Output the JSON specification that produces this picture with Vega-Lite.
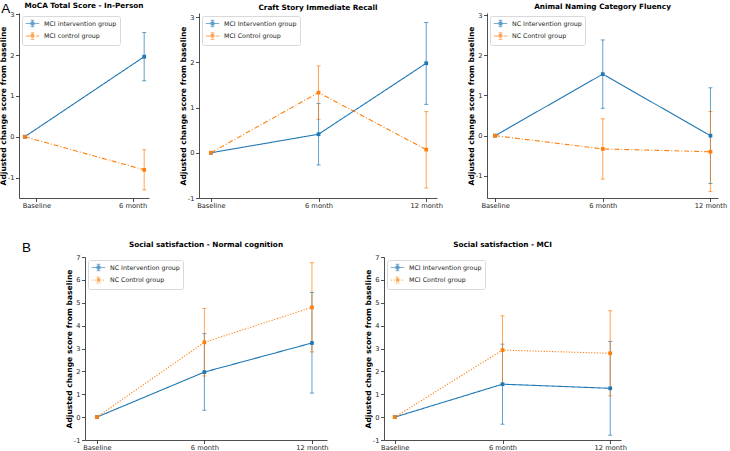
{
  "$schema": "https://vega.github.io/schema/vega-lite/v6.json",
  "padding": {"left": -1, "top": 1, "right": 0, "bottom": 0},
  "title": {"text": "A", "anchor": "start", "font": "Liberation Sans", "fontSize": 13.5, "fontWeight": "normal", "color": "#000", "offset": -14, "dx": 2},
  "config": {
    "view": {"stroke": null},
    "font": "DejaVu Sans",
    "axis": {"grid": false, "domainColor": "#222", "tickColor": "#222", "tickSize": 3.5, "domainWidth": 0.8, "tickWidth": 0.8,
      "labelFont": "DejaVu Sans", "labelFontSize": 6.7, "labelColor": "#222", "labelPadding": 1.5, "labelFlush": false, "labelOverlap": false,
      "titleFont": "DejaVu Sans", "titleFontSize": 7.6, "titleFontWeight": "bold", "titleColor": "#000", "titlePadding": 0},
    "axisX": {"labelPadding": 0.5},
    "title": {"font": "DejaVu Sans", "fontSize": 7.3, "fontWeight": "bold", "color": "#000", "offset": 2},
    "legend": {"orient": "top-left", "offset": 3, "padding": 3, "strokeColor": "#d9d9d9", "fillColor": "#ffffff", "cornerRadius": 2,
      "labelFont": "DejaVu Sans", "labelFontSize": 6.3, "labelColor": "#222", "labelOffset": 7, "rowPadding": 1.6, "symbolOffset": 3,
      "symbolType": "M-1.9,0H1.9M0,-0.9V0.9M-0.5,-0.9H0.5M-0.5,0.9H0.5M-0.42,-0.42H0.42V0.42H-0.42Z", "symbolSize": 50, "symbolStrokeWidth": 1}
  },
  "datasets": {
    "p1": [
      {"group": "MCI intervention group", "x": -0.12, "mean": 0, "lo": null, "hi": null},
      {"group": "MCI intervention group", "x": 1.12, "mean": 1.96, "lo": 1.37, "hi": 2.55},
      {"group": "MCI control group", "x": -0.12, "mean": 0, "lo": null, "hi": null},
      {"group": "MCI control group", "x": 1.12, "mean": -0.81, "lo": -1.30, "hi": -0.32}
    ],
    "p2": [
      {"group": "MCI Intervention group", "x": 0, "mean": 0, "lo": null, "hi": null},
      {"group": "MCI Intervention group", "x": 1, "mean": 0.41, "lo": -0.27, "hi": 1.09},
      {"group": "MCI Intervention group", "x": 2, "mean": 1.98, "lo": 1.07, "hi": 2.88},
      {"group": "MCI Control group", "x": 0, "mean": 0, "lo": null, "hi": null},
      {"group": "MCI Control group", "x": 1, "mean": 1.33, "lo": 0.74, "hi": 1.92},
      {"group": "MCI Control group", "x": 2, "mean": 0.07, "lo": -0.78, "hi": 0.91}
    ],
    "p3": [
      {"group": "NC Intervention group", "x": 0, "mean": 0, "lo": null, "hi": null},
      {"group": "NC Intervention group", "x": 1, "mean": 1.53, "lo": 0.68, "hi": 2.38},
      {"group": "NC Intervention group", "x": 2, "mean": 0.0, "lo": -1.19, "hi": 1.19},
      {"group": "NC Control group", "x": 0, "mean": 0, "lo": null, "hi": null},
      {"group": "NC Control group", "x": 1, "mean": -0.33, "lo": -1.08, "hi": 0.42},
      {"group": "NC Control group", "x": 2, "mean": -0.40, "lo": -1.39, "hi": 0.60}
    ],
    "b1": [
      {"group": "NC Intervention group", "x": 0, "mean": 0, "lo": null, "hi": null},
      {"group": "NC Intervention group", "x": 1, "mean": 1.97, "lo": 0.30, "hi": 3.65},
      {"group": "NC Intervention group", "x": 2, "mean": 3.24, "lo": 1.05, "hi": 5.45},
      {"group": "NC Control group", "x": 0, "mean": 0, "lo": null, "hi": null},
      {"group": "NC Control group", "x": 1, "mean": 3.27, "lo": 1.80, "hi": 4.75},
      {"group": "NC Control group", "x": 2, "mean": 4.80, "lo": 2.85, "hi": 6.75}
    ],
    "b2": [
      {"group": "MCI Intervention group", "x": 0, "mean": 0, "lo": null, "hi": null},
      {"group": "MCI Intervention group", "x": 1, "mean": 1.44, "lo": -0.31, "hi": 3.19},
      {"group": "MCI Intervention group", "x": 2, "mean": 1.26, "lo": -0.79, "hi": 3.31},
      {"group": "MCI Control group", "x": 0, "mean": 0, "lo": null, "hi": null},
      {"group": "MCI Control group", "x": 1, "mean": 2.93, "lo": 1.43, "hi": 4.43},
      {"group": "MCI Control group", "x": 2, "mean": 2.79, "lo": 0.93, "hi": 4.65}
    ]
  },
  "bounds": "flush",
  "spacing": 244,
  "resolve": {"scale": {"x": "independent", "y": "independent", "color": "independent", "strokeDash": "independent"}, "legend": {"color": "independent"}, "axis": {"x": "independent", "y": "independent"}},
  "vconcat": [
    {
      "hconcat": [
        {
          "width": 130, "height": 185,
          "title": {"text": "MoCA Total Score - In-Person"},
          "data": {"name": "p1"},
          "encoding": {
            "x": {"field": "x", "type": "quantitative", "scale": {"domain": [-0.18, 1.17], "nice": false, "zero": false},
              "axis": {"title": null, "values": [0, 1], "labelExpr": "datum.value == 0 ? 'Baseline' : datum.value == 1 ? '6 month' : '12 month'"}},
            "color": {"field": "group", "type": "nominal", "scale": {"domain": ["MCI intervention group", "MCI control group"], "range": ["#1f77b4", "#ff7f0e"]}, "legend": {"title": null}}
          },
          "layer": [
            {"mark": {"type": "errorbar", "rule": {"opacity": 0.7, "strokeWidth": 1}, "ticks": {"size": 4, "opacity": 0.7, "thickness": 1}},
             "encoding": {"y": {"field": "lo", "type": "quantitative", "scale": {"domain": [-1.5, 3.03], "nice": false, "zero": false}, "axis": {"title": "Adjusted change score from baseline", "values": [-1, 0, 1, 2, 3], "labelExpr": "'' + datum.value"}}, "y2": {"field": "hi"}}},
            {"mark": {"type": "line", "strokeWidth": 1.1},
             "encoding": {"y": {"field": "mean", "type": "quantitative", "scale": {"domain": [-1.5, 3.03], "nice": false, "zero": false}, "axis": {"title": "Adjusted change score from baseline", "values": [-1, 0, 1, 2, 3], "labelExpr": "'' + datum.value"}},
               "strokeDash": {"field": "group", "type": "nominal", "scale": {"domain": ["MCI intervention group", "MCI control group"], "range": [[1, 0], [5, 2, 1, 2]]}, "legend": null}}},
            {"mark": {"type": "point", "shape": "square", "filled": true, "size": 14, "opacity": 1},
             "encoding": {"y": {"field": "mean", "type": "quantitative", "scale": {"domain": [-1.5, 3.03], "nice": false, "zero": false}, "axis": {"title": "Adjusted change score from baseline", "values": [-1, 0, 1, 2, 3], "labelExpr": "'' + datum.value"}}}}
          ]
        },
        {
          "width": 238, "height": 185,
          "title": {"text": "Craft Story Immediate Recall"},
          "data": {"name": "p2"},
          "encoding": {
            "x": {"field": "x", "type": "quantitative", "scale": {"domain": [-0.11, 2.1], "nice": false, "zero": false},
              "axis": {"title": null, "values": [0, 1, 2], "labelExpr": "datum.value == 0 ? 'Baseline' : datum.value == 1 ? '6 month' : '12 month'"}},
            "color": {"field": "group", "type": "nominal", "scale": {"domain": ["MCI Intervention group", "MCI Control group"], "range": ["#1f77b4", "#ff7f0e"]}, "legend": {"title": null}}
          },
          "layer": [
            {"mark": {"type": "errorbar", "rule": {"opacity": 0.7, "strokeWidth": 1}, "ticks": {"size": 4, "opacity": 0.7, "thickness": 1}},
             "encoding": {"y": {"field": "lo", "type": "quantitative", "scale": {"domain": [-1, 3.09], "nice": false, "zero": false}, "axis": {"title": "Adjusted change score from baseline", "values": [-1, 0, 1, 2, 3], "labelExpr": "'' + datum.value"}}, "y2": {"field": "hi"}}},
            {"mark": {"type": "line", "strokeWidth": 1.1},
             "encoding": {"y": {"field": "mean", "type": "quantitative", "scale": {"domain": [-1, 3.09], "nice": false, "zero": false}, "axis": {"title": "Adjusted change score from baseline", "values": [-1, 0, 1, 2, 3], "labelExpr": "'' + datum.value"}},
               "strokeDash": {"field": "group", "type": "nominal", "scale": {"domain": ["MCI Intervention group", "MCI Control group"], "range": [[1, 0], [5, 2, 1, 2]]}, "legend": null}}},
            {"mark": {"type": "point", "shape": "square", "filled": true, "size": 14, "opacity": 1},
             "encoding": {"y": {"field": "mean", "type": "quantitative", "scale": {"domain": [-1, 3.09], "nice": false, "zero": false}, "axis": {"title": "Adjusted change score from baseline", "values": [-1, 0, 1, 2, 3], "labelExpr": "'' + datum.value"}}}}
          ]
        },
        {
          "width": 231, "height": 185,
          "title": {"text": "Animal Naming Category Fluency"},
          "data": {"name": "p3"},
          "encoding": {
            "x": {"field": "x", "type": "quantitative", "scale": {"domain": [-0.075, 2.07], "nice": false, "zero": false},
              "axis": {"title": null, "values": [0, 1, 2], "labelExpr": "datum.value == 0 ? 'Baseline' : datum.value == 1 ? '6 month' : '12 month'"}},
            "color": {"field": "group", "type": "nominal", "scale": {"domain": ["NC Intervention group", "NC Control group"], "range": ["#1f77b4", "#ff7f0e"]}, "legend": {"title": null}}
          },
          "layer": [
            {"mark": {"type": "errorbar", "rule": {"opacity": 0.7, "strokeWidth": 1}, "ticks": {"size": 4, "opacity": 0.7, "thickness": 1}},
             "encoding": {"y": {"field": "lo", "type": "quantitative", "scale": {"domain": [-1.55, 3.05], "nice": false, "zero": false}, "axis": {"title": "Adjusted change score from baseline", "values": [-1, 0, 1, 2, 3], "labelExpr": "'' + datum.value"}}, "y2": {"field": "hi"}}},
            {"mark": {"type": "line", "strokeWidth": 1.1},
             "encoding": {"y": {"field": "mean", "type": "quantitative", "scale": {"domain": [-1.55, 3.05], "nice": false, "zero": false}, "axis": {"title": "Adjusted change score from baseline", "values": [-1, 0, 1, 2, 3], "labelExpr": "'' + datum.value"}},
               "strokeDash": {"field": "group", "type": "nominal", "scale": {"domain": ["NC Intervention group", "NC Control group"], "range": [[1, 0], [5, 2, 1, 2]]}, "legend": null}}},
            {"mark": {"type": "point", "shape": "square", "filled": true, "size": 14, "opacity": 1},
             "encoding": {"y": {"field": "mean", "type": "quantitative", "scale": {"domain": [-1.55, 3.05], "nice": false, "zero": false}, "axis": {"title": "Adjusted change score from baseline", "values": [-1, 0, 1, 2, 3], "labelExpr": "'' + datum.value"}}}}
          ]
        }
      ],
      "spacing": 50,
      "bounds": "flush",
      "resolve": {"scale": {"x": "independent", "y": "independent", "color": "independent", "strokeDash": "independent"}, "legend": {"color": "independent"}, "axis": {"x": "independent", "y": "independent"}}
    },
    {
      "hconcat": [
        {
          "width": 9, "height": 183,
          "title": {"text": "B", "anchor": "start", "font": "Liberation Sans", "fontSize": 13.5, "fontWeight": "normal", "color": "#000", "offset": 3, "dx": 3},
          "data": {"values": [{}]},
          "mark": {"type": "point", "opacity": 0},
          "encoding": {}
        },
        {
          "width": 242, "height": 183,
          "title": {"text": "Social satisfaction - Normal cognition", "offset": 6},
          "data": {"name": "b1"},
          "encoding": {
            "x": {"field": "x", "type": "quantitative", "scale": {"domain": [-0.11, 2.14], "nice": false, "zero": false},
              "axis": {"title": null, "values": [0, 1, 2], "labelExpr": "datum.value == 0 ? 'Baseline' : datum.value == 1 ? '6 month' : '12 month'"}},
            "color": {"field": "group", "type": "nominal", "scale": {"domain": ["NC Intervention group", "NC Control group"], "range": ["#1f77b4", "#ff7f0e"]}, "legend": {"title": null}}
          },
          "layer": [
            {"mark": {"type": "errorbar", "rule": {"opacity": 0.7, "strokeWidth": 1}, "ticks": {"size": 4, "opacity": 0.7, "thickness": 1}},
             "encoding": {"y": {"field": "lo", "type": "quantitative", "scale": {"domain": [-1, 7], "nice": false, "zero": false}, "axis": {"title": "Adjusted change score from baseline", "values": [-1, 0, 1, 2, 3, 4, 5, 6, 7], "labelExpr": "'' + datum.value"}}, "y2": {"field": "hi"}}},
            {"mark": {"type": "line", "strokeWidth": 1.1},
             "encoding": {"y": {"field": "mean", "type": "quantitative", "scale": {"domain": [-1, 7], "nice": false, "zero": false}, "axis": {"title": "Adjusted change score from baseline", "values": [-1, 0, 1, 2, 3, 4, 5, 6, 7], "labelExpr": "'' + datum.value"}},
               "strokeDash": {"field": "group", "type": "nominal", "scale": {"domain": ["NC Intervention group", "NC Control group"], "range": [[1, 0], [1.2, 1.6]]}, "legend": null}}},
            {"mark": {"type": "point", "shape": "square", "filled": true, "size": 14, "opacity": 1},
             "encoding": {"y": {"field": "mean", "type": "quantitative", "scale": {"domain": [-1, 7], "nice": false, "zero": false}, "axis": {"title": "Adjusted change score from baseline", "values": [-1, 0, 1, 2, 3, 4, 5, 6, 7], "labelExpr": "'' + datum.value"}}}}
          ]
        },
        {
          "width": 237, "height": 183,
          "title": {"text": "Social satisfaction - MCI", "offset": 6},
          "data": {"name": "b2"},
          "encoding": {
            "x": {"field": "x", "type": "quantitative", "scale": {"domain": [-0.1, 2.1], "nice": false, "zero": false},
              "axis": {"title": null, "values": [0, 1, 2], "labelExpr": "datum.value == 0 ? 'Baseline' : datum.value == 1 ? '6 month' : '12 month'"}},
            "color": {"field": "group", "type": "nominal", "scale": {"domain": ["MCI Intervention group", "MCI Control group"], "range": ["#1f77b4", "#ff7f0e"]}, "legend": {"title": null}}
          },
          "layer": [
            {"mark": {"type": "errorbar", "rule": {"opacity": 0.7, "strokeWidth": 1}, "ticks": {"size": 4, "opacity": 0.7, "thickness": 1}},
             "encoding": {"y": {"field": "lo", "type": "quantitative", "scale": {"domain": [-1, 7], "nice": false, "zero": false}, "axis": {"title": "Adjusted change score from baseline", "values": [-1, 0, 1, 2, 3, 4, 5, 6, 7], "labelExpr": "'' + datum.value"}}, "y2": {"field": "hi"}}},
            {"mark": {"type": "line", "strokeWidth": 1.1},
             "encoding": {"y": {"field": "mean", "type": "quantitative", "scale": {"domain": [-1, 7], "nice": false, "zero": false}, "axis": {"title": "Adjusted change score from baseline", "values": [-1, 0, 1, 2, 3, 4, 5, 6, 7], "labelExpr": "'' + datum.value"}},
               "strokeDash": {"field": "group", "type": "nominal", "scale": {"domain": ["MCI Intervention group", "MCI Control group"], "range": [[1, 0], [1.2, 1.6]]}, "legend": null}}},
            {"mark": {"type": "point", "shape": "square", "filled": true, "size": 14, "opacity": 1},
             "encoding": {"y": {"field": "mean", "type": "quantitative", "scale": {"domain": [-1, 7], "nice": false, "zero": false}, "axis": {"title": "Adjusted change score from baseline", "values": [-1, 0, 1, 2, 3, 4, 5, 6, 7], "labelExpr": "'' + datum.value"}}}}
          ]
        }
      ],
      "spacing": 57,
      "bounds": "flush",
      "resolve": {"scale": {"x": "independent", "y": "independent", "color": "independent", "strokeDash": "independent"}, "legend": {"color": "independent"}, "axis": {"x": "independent", "y": "independent"}}
    }
  ]
}
